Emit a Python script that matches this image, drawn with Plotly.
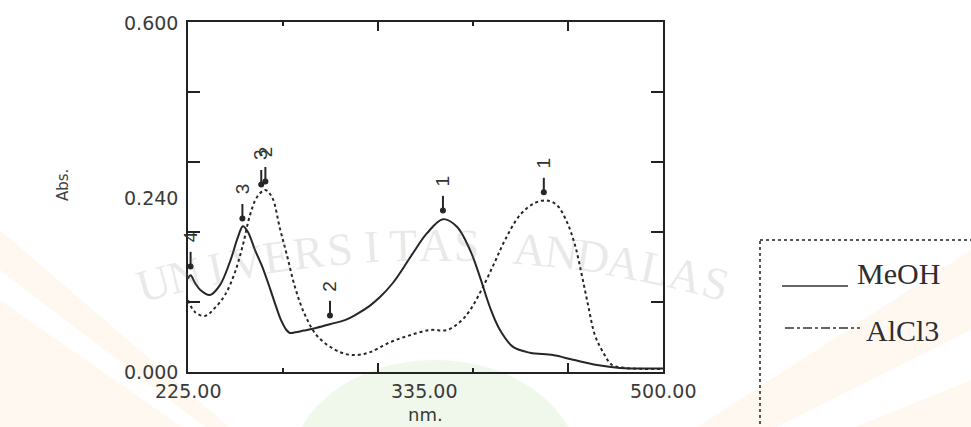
import math
import numpy as np
import plotly.graph_objects as go

# UV spectrum of the extract: in methanol and after adding AlCl3
meoh_nm = [225, 226.5, 229, 232, 237.7, 243.5, 249.3, 254, 256.8, 259.7, 263.8, 267.8,
           272.5, 276, 279, 282, 284, 287, 292, 298.5, 307.2, 315.9, 322, 330, 336, 343.7,
           350, 355.3, 363.4, 372.6, 380.7, 388.3, 394, 399.8, 405.6, 413.2, 423, 436.3,
           447.9, 461.8, 475, 500]
meoh_abs = [0.160, 0.166, 0.153, 0.141, 0.132, 0.149, 0.189, 0.232, 0.250, 0.240, 0.209, 0.182,
            0.143, 0.112, 0.088, 0.072, 0.067, 0.068, 0.071, 0.075, 0.082, 0.089, 0.098, 0.113,
            0.128, 0.153, 0.180, 0.204, 0.238, 0.262, 0.249, 0.209, 0.163, 0.111, 0.072, 0.043,
            0.033, 0.029, 0.021, 0.012, 0.007, 0.006]

alcl3_nm = [225, 229, 234.8, 240.6, 246.4, 252.2, 256.8, 260.9, 265, 269.6, 273.6, 278.3,
            282.3, 287, 292.7, 300.3, 313, 321.7, 330.4, 342, 353.5, 365.1, 375, 382.5,
            388.3, 395.8, 402.7, 408.5, 417.2, 425.9, 432.8, 438.6, 444.4, 449, 453, 456.6,
            460.6, 465.3, 470.5, 478, 500]
alcl3_abs = [0.123, 0.103, 0.096, 0.110, 0.132, 0.171, 0.218, 0.269, 0.300, 0.312, 0.300, 0.245,
             0.200, 0.145, 0.098, 0.060, 0.034, 0.029, 0.034, 0.051, 0.063, 0.072, 0.072, 0.086,
             0.106, 0.146, 0.189, 0.226, 0.269, 0.290, 0.294, 0.286, 0.257, 0.218, 0.166, 0.115,
             0.063, 0.034, 0.012, 0.007, 0.005]

# picked peaks (wavelength, peak number)
meoh_peak_nm = [372.6, 307.2, 256.5, 226.5]
meoh_peak_no = ["1", "2", "3", "4"]
alcl3_peak_nm = [431.0, 267.4, 269.8]
alcl3_peak_no = ["1", "3", "2"]

x_tick_text = ["225.00", "335.00", "500.00"]
y_tick_text = ["0.000", "0.240", "0.600"]

W, H = 971, 427
L, R, T, B = 188, 663, 22, 372


def px(xp, yp):
    """pixel position on the page -> paper coordinates of the plot area"""
    return (xp - L) / (R - L), (B - yp) / (B - T)


fig = go.Figure()

ink = "#262626"
fig.add_trace(go.Scatter(x=meoh_nm, y=meoh_abs, mode="lines", name="MeOH",
                         line=dict(color=ink, width=2, shape="spline", smoothing=1.0)))
fig.add_trace(go.Scatter(x=alcl3_nm, y=alcl3_abs, mode="lines", name="AlCl3",
                         line=dict(color=ink, width=2, dash="3px,3px", shape="spline", smoothing=1.0)))

annotations = []
label_font = dict(family="Liberation Sans Narrow, Liberation Sans, Arial", size=19, color="#333")


def add_peaks(nm_list, no_list, xs, ys):
    for nm, no in zip(nm_list, no_list):
        a = float(np.interp(nm, xs, ys))
        fig.add_trace(go.Scatter(x=[nm, nm], y=[a + 0.014, a + 0.040], mode="lines",
                                 line=dict(color=ink, width=2), showlegend=False, hoverinfo="skip"))
        fig.add_trace(go.Scatter(x=[nm], y=[a + 0.015], mode="markers",
                                 marker=dict(color=ink, size=6), showlegend=False, hoverinfo="skip"))
        annotations.append(dict(x=nm, y=a + 0.066, xref="x", yref="y", text=no, showarrow=False,
                                textangle=-90, font=label_font, xanchor="center", yanchor="middle"))


add_peaks(meoh_peak_nm, meoh_peak_no, meoh_nm, meoh_abs)
add_peaks(alcl3_peak_nm, alcl3_peak_no, alcl3_nm, alcl3_abs)

tick_font = dict(family="DejaVu Sans", size=19, color="#3a3a3a")
for xv, t in zip([225, 361.6, 500], x_tick_text):
    annotations.append(dict(x=xv, y=px(0, 391)[1], xref="x", yref="paper", text=t, showarrow=False,
                            font=tick_font, xanchor="center", yanchor="middle"))
for yp, t in zip([372, 198, 23], y_tick_text):
    annotations.append(dict(x=px(180, 0)[0], y=px(0, yp)[1], xref="paper", yref="paper", text=t,
                            showarrow=False, font=tick_font, xanchor="right", yanchor="middle"))

annotations.append(dict(x=px(425, 0)[0], y=px(0, 414)[1], xref="paper", yref="paper", text="nm.",
                        showarrow=False, font=dict(family="DejaVu Sans", size=18, color="#3a3a3a"),
                        xanchor="center", yanchor="middle"))
annotations.append(dict(x=px(63, 0)[0], y=px(0, 185)[1], xref="paper", yref="paper", text="Abs.",
                        showarrow=False, textangle=-90,
                        font=dict(family="DejaVu Sans", size=15, color="#444"),
                        xanchor="center", yanchor="middle"))

# legend box on the right
serif = dict(family="Liberation Serif, Times New Roman", size=30, color="#2e2e2e")
annotations.append(dict(x=px(855, 0)[0], y=px(0, 273)[1], xref="paper", yref="paper", text="MeOH",
                        showarrow=False, font=serif, xanchor="left", yanchor="middle"))
annotations.append(dict(x=px(864, 0)[0], y=px(0, 330)[1], xref="paper", yref="paper", text="AlCl3",
                        showarrow=False, font=serif, xanchor="left", yanchor="middle"))

shapes = []
x0, y0 = px(760, 240)
x1, y1 = px(985, 440)
shapes.append(dict(type="rect", xref="paper", yref="paper", x0=x0, y0=y0, x1=x1, y1=y1,
                   line=dict(color="#555", width=2, dash="dot"), layer="above"))
a0, b0 = px(782, 286)
a1, _ = px(848, 286)
shapes.append(dict(type="line", xref="paper", yref="paper", x0=a0, y0=b0, x1=a1, y1=b0,
                   line=dict(color="#333", width=1.5)))
a0, b0 = px(785, 328)
a1, _ = px(860, 328)
shapes.append(dict(type="line", xref="paper", yref="paper", x0=a0, y0=b0, x1=a1, y1=b0,
                   line=dict(color="#333", width=1.5, dash="dashdot")))


# faint background tints
def poly(points):
    pts = [px(*p) for p in points]
    return "M " + " L ".join(f"{a:.4f},{b:.4f}" for a, b in pts) + " Z"


peach = "rgba(248,214,170,0.16)"
for pts in [
    [(0, 300), (0, 427), (120, 427), (430, 600)],
    [(0, 230), (0, 270), (430, 600)],
    [(160, 427), (260, 427), (430, 600)],
    [(640, 427), (740, 427), (430, 600)],
    [(971, 250), (971, 330), (430, 600)],
    [(971, 380), (971, 427), (820, 427), (430, 600)],
]:
    shapes.append(dict(type="path", xref="paper", yref="paper", path=poly(pts),
                       fillcolor=peach, line=dict(width=0), layer="below"))
g0, h0 = px(290, 360)
g1, h1 = px(580, 580)
shapes.append(dict(type="circle", xref="paper", yref="paper", x0=g0, y0=h0, x1=g1, y1=h1,
                   fillcolor="rgba(205,232,190,0.30)", line=dict(width=0), layer="below"))

# watermark lettering along an arc
mark = "UNIVERSITAS ANDALAS"
cx, cy, rad = 435, 1300, 1055
span = 0.54
for i, ch in enumerate(mark):
    th = -span / 2 + i * span / (len(mark) - 1)
    xp_, yp_ = cx + rad * math.sin(th), cy - rad * math.cos(th)
    pa, pb = px(xp_, yp_)
    annotations.append(dict(x=pa, y=pb, xref="paper", yref="paper", text=ch, showarrow=False,
                            textangle=math.degrees(th),
                            font=dict(family="Liberation Serif", size=46, color="rgba(120,120,120,0.17)"),
                            xanchor="center", yanchor="middle"))

axis_common = dict(showgrid=False, zeroline=False, showline=True, linecolor="#222", linewidth=2,
                   mirror="ticks", ticks="inside", tickcolor="#222", showticklabels=False)
fig.update_layout(
    width=W, height=H,
    margin=dict(l=L, r=W - R, t=T, b=H - B),
    paper_bgcolor="white", plot_bgcolor="rgba(0,0,0,0)",
    showlegend=False,
    xaxis=dict(range=[225, 500], tick0=225, dtick=110, ticklen=9, tickwidth=2,
               minor=dict(ticks="inside", tick0=225, dtick=55, ticklen=4, tickwidth=2, tickcolor="#222"),
               **axis_common),
    yaxis=dict(range=[0, 0.6], tick0=0, dtick=0.12, ticklen=12, tickwidth=1.5, **axis_common),
    annotations=annotations,
    shapes=shapes,
)

fig.write_html("out.html")
